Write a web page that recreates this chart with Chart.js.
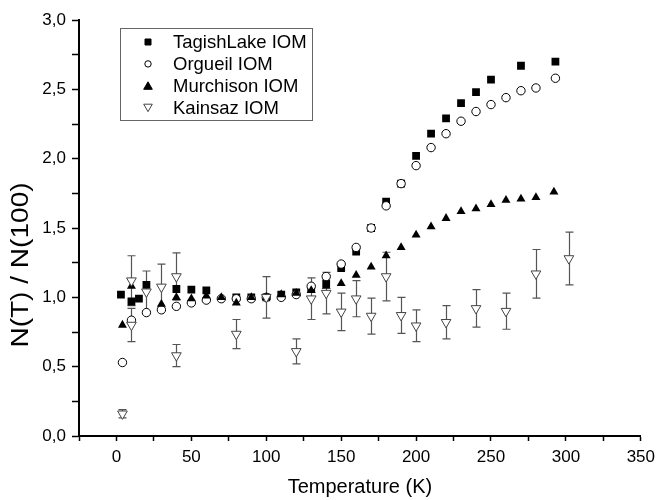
<!DOCTYPE html>
<html>
<head>
<meta charset="utf-8">
<script src="https://cdn.jsdelivr.net/npm/chart.js@4.4.0/dist/chart.umd.min.js"></script>
<style>
  html, body { margin: 0; padding: 0; background: #fff; }
</style>
</head>
<body>
<canvas id="chart" width="661" height="500"></canvas>
<script>
// Temperature (K) and N(T)/N(100) for each IOM sample
const tagishT = [3, 10, 15, 20, 40, 50, 60, 80, 90, 100, 110, 120, 130, 140, 150, 160, 170, 180, 190, 200, 210, 220, 230, 240, 250, 270, 293];
const tagishN = [1.02, 0.97, 0.99, 1.09, 1.06, 1.055, 1.05, 1.0, 1.0, 1.0, 1.02, 1.035, 1.06, 1.10, 1.21, 1.33, 1.50, 1.69, 1.82, 2.02, 2.18, 2.29, 2.40, 2.48, 2.57, 2.67, 2.70];

const orgueilT = [4, 10, 20, 30, 40, 50, 60, 70, 80, 90, 100, 110, 120, 130, 140, 150, 160, 170, 180, 190, 200, 210, 220, 230, 240, 250, 260, 270, 280, 293];
const orgueilN = [0.53, 0.835, 0.89, 0.91, 0.935, 0.96, 0.98, 0.99, 0.99, 0.99, 1.0, 1.0, 1.02, 1.08, 1.15, 1.24, 1.36, 1.50, 1.66, 1.82, 1.95, 2.08, 2.18, 2.27, 2.34, 2.39, 2.44, 2.49, 2.51, 2.58];

const murchisonT = [4, 10, 30, 40, 50, 60, 70, 80, 90, 100, 110, 120, 130, 140, 150, 160, 170, 180, 190, 200, 210, 220, 230, 240, 250, 260, 270, 280, 292];
const murchisonN = [0.80, 1.08, 0.95, 1.0, 0.99, 1.01, 1.0, 0.96, 1.0, 1.0, 1.02, 1.03, 1.05, 1.08, 1.10, 1.16, 1.22, 1.30, 1.36, 1.45, 1.51, 1.57, 1.62, 1.64, 1.67, 1.70, 1.71, 1.72, 1.76];

const kainsazT = [4, 10, 10, 20, 30, 40, 40, 80, 100, 120, 130, 140, 150, 160, 170, 180, 190, 200, 220, 240, 260, 280, 302];
const kainsazN = [0.16, 1.12, 0.80, 1.04, 1.075, 1.15, 0.58, 0.735, 1.0, 0.61, 0.99, 1.03, 0.895, 0.99, 0.865, 1.15, 0.87, 0.795, 0.82, 0.92, 0.90, 1.17, 1.28];
const kainsazErr = [0.03, 0.18, 0.12, 0.15, 0.165, 0.17, 0.08, 0.105, 0.15, 0.09, 0.15, 0.15, 0.135, 0.13, 0.13, 0.175, 0.13, 0.115, 0.12, 0.135, 0.13, 0.175, 0.19];

const xTicks = { min: -25, max: 350, step: 25, labelEvery: 50 };
const yTicks = { min: 0, max: 3, step: 0.25, labelEvery: 0.5 };
const yTitle = 'N(T) / N(100)';

const FONT = '"Liberation Sans", Arial, sans-serif';

function points(xs, ys) {
  return xs.map((x, i) => ({ x: x, y: ys[i] }));
}

// vertical error bars for Kainsaz, drawn behind the markers
const errorBars = {
  id: 'errorBars',
  beforeDatasetsDraw(chart) {
    const { ctx, scales: { x, y } } = chart;
    ctx.save();
    ctx.strokeStyle = '#555';
    ctx.lineWidth = 1.2;
    kainsazT.forEach((t, i) => {
      const px = Math.round(x.getPixelForValue(t)) + 0.5;
      const top = y.getPixelForValue(kainsazN[i] + kainsazErr[i]);
      const bot = y.getPixelForValue(kainsazN[i] - kainsazErr[i]);
      ctx.beginPath();
      ctx.moveTo(px, top); ctx.lineTo(px, bot);
      ctx.moveTo(px - 4, top); ctx.lineTo(px + 4, top);
      ctx.moveTo(px - 4, bot); ctx.lineTo(px + 4, bot);
      ctx.stroke();
    });
    ctx.restore();
  }
};

// y title sits lower than the axis centre, as in the original
const sideTitle = {
  id: 'sideTitle',
  afterDraw(chart) {
    const ctx = chart.ctx;
    ctx.save();
    ctx.translate(22, 265);
    ctx.rotate(-Math.PI / 2);
    ctx.scale(1.22, 1);
    ctx.font = '23px ' + FONT;
    ctx.fillStyle = '#000';
    ctx.textAlign = 'center';
    ctx.textBaseline = 'middle';
    ctx.fillText(yTitle, 0, 0);
    ctx.restore();
  }
};

// boxed legend inside the plot, like the original
function symbol(ctx, style, cx, cy) {
  ctx.beginPath();
  if (style === 'rect') {
    ctx.rect(cx - 3, cy - 3, 6, 6);
  } else if (style === 'circle') {
    ctx.arc(cx, cy, 3.2, 0, Math.PI * 2);
  } else if (style === 'up') {
    ctx.moveTo(cx, cy - 4); ctx.lineTo(cx + 4.3, cy + 3.5); ctx.lineTo(cx - 4.3, cy + 3.5);
    ctx.closePath();
  } else {
    ctx.moveTo(cx - 4.3, cy - 3.5); ctx.lineTo(cx + 4.3, cy - 3.5); ctx.lineTo(cx, cy + 4);
    ctx.closePath();
  }
  ctx.fill();
  ctx.stroke();
}

const boxLegend = {
  id: 'boxLegend',
  afterDraw(chart) {
    const ctx = chart.ctx;
    const styles = ['rect', 'circle', 'up', 'down'];
    ctx.save();
    ctx.strokeStyle = '#666';
    ctx.lineWidth = 1;
    ctx.strokeRect(120.5, 28.5, 192, 92);
    ctx.font = '18.5px ' + FONT;
    ctx.textBaseline = 'middle';
    chart.data.datasets.forEach((ds, i) => {
      const cy = 42 + i * 21.9;
      ctx.fillStyle = ds.backgroundColor;
      ctx.strokeStyle = ds.borderColor;
      ctx.lineWidth = 1;
      symbol(ctx, styles[i], 148, cy);
      ctx.fillStyle = '#000';
      ctx.fillText(ds.label, 173, cy + 1);
    });
    ctx.restore();
  }
};

new Chart(document.getElementById('chart'), {
  type: 'scatter',
  data: {
    datasets: [
      {
        label: 'TagishLake IOM',
        data: points(tagishT, tagishN),
        pointStyle: 'rect', pointRadius: 5.5, borderWidth: 0,
        backgroundColor: '#000', borderColor: '#000', order: 4
      },
      {
        label: 'Orgueil IOM',
        data: points(orgueilT, orgueilN),
        pointStyle: 'circle', pointRadius: 4.2, borderWidth: 1,
        backgroundColor: '#fff', borderColor: '#000', order: 3
      },
      {
        label: 'Murchison IOM',
        data: points(murchisonT, murchisonN),
        pointStyle: 'triangle', pointRadius: 5.2, borderWidth: 0,
        backgroundColor: '#000', borderColor: '#000', order: 2
      },
      {
        label: 'Kainsaz IOM',
        data: points(kainsazT, kainsazN),
        pointStyle: 'triangle', rotation: 180, pointRadius: 5.6, borderWidth: 1,
        backgroundColor: '#fff', borderColor: '#444', order: 1
      }
    ]
  },
  options: {
    responsive: false,
    animation: false,
    events: [],
    layout: { padding: { top: 20, right: 16, left: 0, bottom: 0 } },
    plugins: { legend: { display: false }, tooltip: { enabled: false } },
    scales: {
      x: {
        type: 'linear',
        min: xTicks.min, max: xTicks.max,
        afterFit: s => { s.height = 64; },
        grid: { drawOnChartArea: false, drawTicks: true, tickLength: 5, tickWidth: 1.5, tickColor: '#000' },
        border: { display: true, color: '#000', width: 2 },
        ticks: {
          stepSize: xTicks.step, autoSkip: false, maxRotation: 0, padding: 6,
          color: '#000', font: { family: FONT, size: 17 },
          callback: v => (v % xTicks.labelEvery === 0 ? String(v) : '')
        },
        title: {
          display: true, text: 'Temperature (K)', color: '#000',
          font: { family: FONT, size: 20 }, padding: { top: 1, bottom: 1 }
        }
      },
      y: {
        type: 'linear',
        min: yTicks.min, max: yTicks.max,
        afterFit: s => { s.width = 79; },
        grid: { drawOnChartArea: false, drawTicks: true, tickLength: 7, tickWidth: 1.5, tickColor: '#000' },
        border: { display: true, color: '#000', width: 2 },
        ticks: {
          stepSize: yTicks.step, autoSkip: false, padding: 6,
          color: '#000', font: { family: FONT, size: 17 },
          callback: v => {
            const k = v / yTicks.labelEvery;
            return Math.abs(k - Math.round(k)) < 1e-6 ? v.toFixed(1).replace('.', ',') : '';
          }
        },
        title: { display: false }
      }
    }
  },
  plugins: [errorBars, sideTitle, boxLegend]
});
</script>
</body>
</html>
